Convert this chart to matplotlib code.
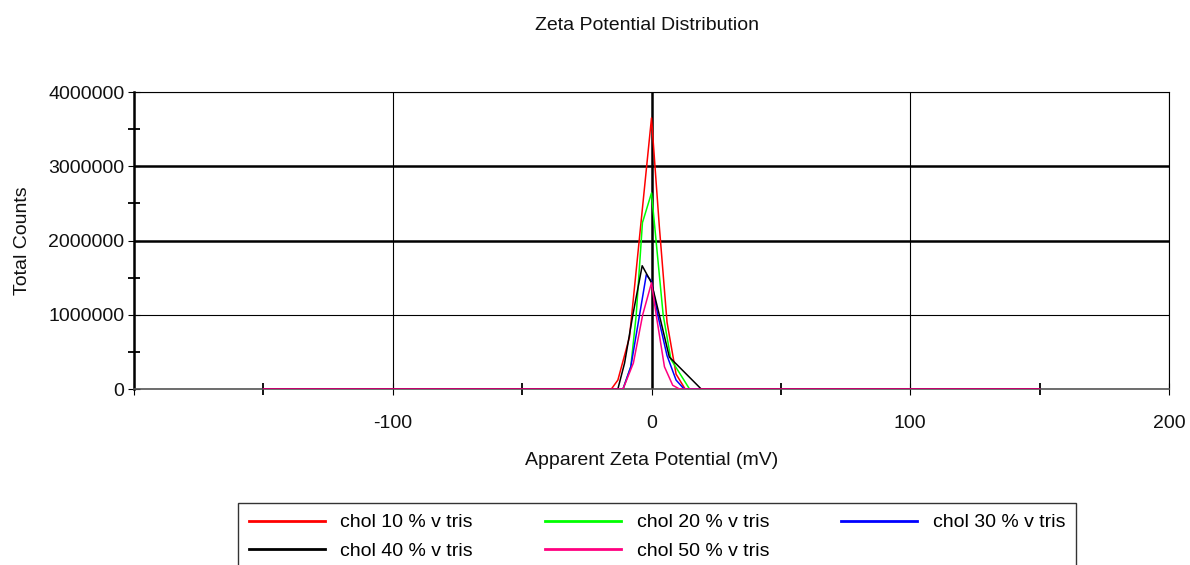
import numpy as np
import matplotlib.pyplot as plt
from matplotlib.ticker import FixedLocator, FuncFormatter

plt.rcParams['font.family'] = ['Liberation Sans', 'DejaVu Sans']

# Zeta potential (mV) and total counts
labels = ['chol 10 % v tris', 'chol 20 % v tris', 'chol 30 % v tris',
          'chol 40 % v tris', 'chol 50 % v tris']
colors = ['#ff0000', '#00ff00', '#0000ff', '#000000', '#ff0080']

x_10 = [-150, -15.5, -13, -8.5, 0, 3, 6, 9.5, 13, 150]
y_10 = [0, 0, 120000, 700000, 3650000, 2200000, 900000, 200000, 0, 0]

x_20 = [-150, -11, -8, -5.9, -3.5, 0, 4.5, 7.5, 14.7, 150]
y_20 = [0, 0, 300000, 1000000, 2240000, 2640000, 1000000, 400000, 0, 0]

x_30 = [-150, -11, -8, -4.6, -2, 0, 2.4, 6, 9.5, 12.6, 150]
y_30 = [0, 0, 300000, 1000000, 1540000, 1450000, 1000000, 450000, 120000, 0, 0]

x_40 = [-150, -13, -10.4, -7.2, -3.6, 0, 3, 6.9, 19.2, 150]
y_40 = [0, 0, 350000, 1000000, 1660000, 1430000, 1000000, 430000, 0, 0]

x_50 = [-150, -11, -7, -3.4, 0, 1.8, 5, 8.2, 10.8, 150]
y_50 = [0, 0, 350000, 1000000, 1430000, 1000000, 300000, 50000, 0, 0]

xs = [x_10, x_20, x_30, x_40, x_50]
ys = [y_10, y_20, y_30, y_40, y_50]

x_ticks = [-200, -100, 0, 100, 200]
x_ticklabels = ['', '-100', '0', '100', '200']
x_minor = [-150, -50, 50, 150]
y_ticks = [0, 1000000, 2000000, 3000000, 4000000]
y_minor = [500000, 1500000, 2500000, 3500000]

fig = plt.figure(figsize=(11.9, 5.65), dpi=100)
ax = fig.add_axes([134 / 1190, 1 - 389 / 565, 1035 / 1190, 297 / 565])

lines = []
for x, y, c, lab in zip(xs, ys, colors, labels):
    ln, = ax.plot(x, y, color=c, lw=1.1, label=lab, zorder=3)
    lines.append(ln)

ax.set_xlim(-200, 200)
ax.set_ylim(0, 4000000)

ax.xaxis.set_major_locator(FixedLocator(x_ticks))
ax.set_xticklabels(x_ticklabels)
ax.xaxis.set_minor_locator(FixedLocator(x_minor))
ax.yaxis.set_major_locator(FixedLocator(y_ticks))
ax.yaxis.set_minor_locator(FixedLocator(y_minor))
ax.yaxis.set_major_formatter(FuncFormatter(lambda v, p: f'{v:.0f}'))

ax.tick_params(axis='both', which='both', direction='inout', color='black',
               labelsize=14, labelcolor='#111111')
ax.tick_params(axis='x', which='major', length=8, width=0.8, pad=15)
ax.tick_params(axis='x', which='minor', length=8, width=1.3)
ax.tick_params(axis='y', which='major', length=8, width=0.8, pad=3)
ax.tick_params(axis='y', which='minor', length=8, width=1.3)

# grid lines, some drawn heavier as in the original
ax.grid(True, which='major', color='black', lw=0.8, zorder=1)
ax.set_axisbelow(True)
for val, gl in zip(y_ticks, ax.get_ygridlines()):
    if val in (2000000, 3000000):
        gl.set_linewidth(1.8)
for val, gl in zip(x_ticks, ax.get_xgridlines()):
    if val == 0:
        gl.set_linewidth(1.8)

ax.spines['left'].set_linewidth(1.8)
ax.spines['bottom'].set_color('#555555')
ax.spines['bottom'].set_linewidth(1.2)
ax.spines['top'].set_linewidth(0.8)
ax.spines['right'].set_linewidth(0.8)

ax.set_xlabel('Apparent Zeta Potential (mV)', fontsize=14, labelpad=14, color='#111111')
ax.set_ylabel('Total Counts', fontsize=14, labelpad=12, color='#111111')
fig.text(647 / 1190, 1 - 26 / 565, 'Zeta Potential Distribution', fontsize=14,
         ha='center', va='center', color='#111111')

order = [0, 3, 1, 4, 2]
leg = fig.legend([lines[i] for i in order], [labels[i] for i in order],
                 ncol=3, loc='upper left', mode='expand',
                 bbox_to_anchor=(238 / 1190, 0, 838 / 1190, 1 - 503 / 565),
                 borderaxespad=0, fontsize=14, frameon=True, fancybox=False,
                 edgecolor='black', handlelength=3.9, handletextpad=0.8,
                 labelspacing=0.55, borderpad=0.55)
leg.get_frame().set_linewidth(1.0)
for h in leg.legend_handles:
    h.set_linewidth(2)

fig.savefig('out.png', dpi=100)
